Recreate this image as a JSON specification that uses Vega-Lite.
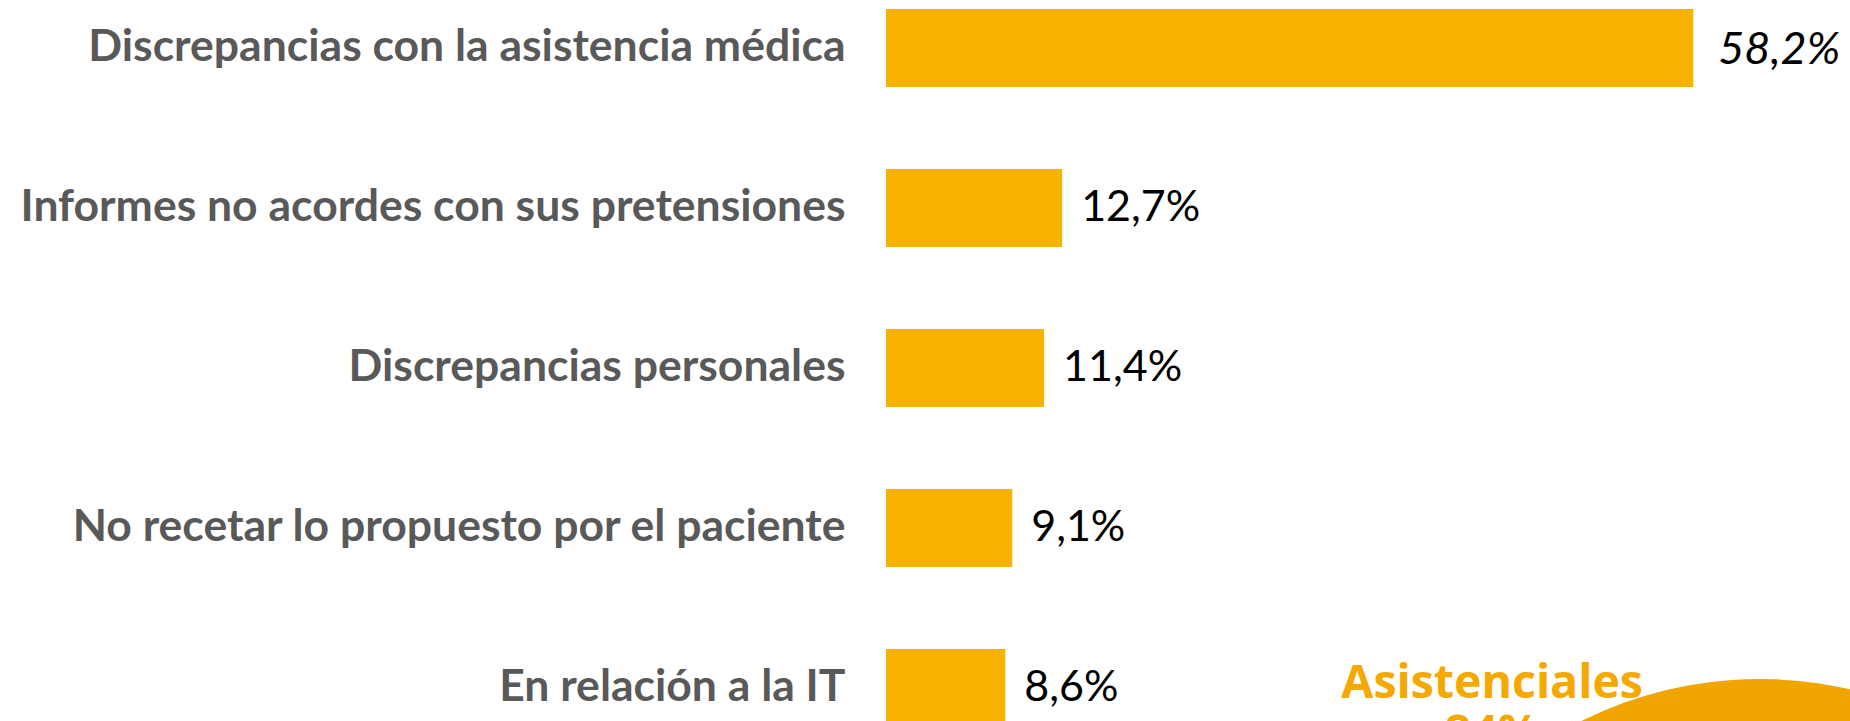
{
  "$schema": "https://vega.github.io/schema/vega-lite/v6.json",
  "autosize": {"type": "none"},
  "width": 964,
  "height": 736,
  "padding": {"left": 886, "top": 0, "right": 0, "bottom": 0},
  "background": "white",
  "config": {"view": {"stroke": null}},
  "layer": [
    {
      "data": {"values": [
        {"motivo": "Discrepancias con la asistencia médica", "pct": 58.2, "etiqueta": "58,2%"},
        {"motivo": "Informes no acordes con sus pretensiones", "pct": 12.7, "etiqueta": "12,7%"},
        {"motivo": "Discrepancias personales", "pct": 11.4, "etiqueta": "11,4%"},
        {"motivo": "No recetar lo propuesto por el paciente", "pct": 9.1, "etiqueta": "9,1%"},
        {"motivo": "En relación a la IT", "pct": 8.6, "etiqueta": "8,6%"}
      ]},
      "encoding": {
        "y": {"field": "motivo", "type": "nominal", "sort": null, "title": null,
          "scale": {"paddingInner": 0.5125, "paddingOuter": 0.05625},
          "axis": {"domain": false, "ticks": false, "labelPadding": 41, "labelFont": "Lato", "labelFontWeight": "bold", "labelFontSize": 44.5, "labelColor": "#595959", "labelLimit": 900}},
        "x": {"field": "pct", "type": "quantitative", "scale": {"domain": [0, 69.5], "nice": false}, "axis": null}
      },
      "layer": [
        {"mark": {"type": "bar", "color": "#F8B200"}},
        {
          "transform": [{"filter": "datum.motivo !== 'Discrepancias con la asistencia médica'"}],
          "mark": {"type": "text", "align": "left", "baseline": "middle", "dx": 19, "font": "Lato", "fontSize": 43, "color": "#000000"},
          "encoding": {"text": {"field": "etiqueta"}}
        },
        {
          "transform": [{"filter": "datum.motivo === 'Discrepancias con la asistencia médica'"}],
          "mark": {"type": "text", "align": "left", "baseline": "middle", "dx": 25, "dy": 2, "font": "Lato", "fontSize": 45, "fontStyle": "italic", "color": "#000000"},
          "encoding": {"text": {"field": "etiqueta"}}
        }
      ]
    },
    {
      "data": {"values": [
        {"grupo": "Asistenciales", "pct": 84, "texto": "Asistenciales\n84%"},
        {"grupo": "Otros", "pct": 16, "texto": ""}
      ]},
      "layer": [
        {
          "mark": {"type": "arc", "radius": 400},
          "encoding": {
            "x": {"datum": 63, "type": "quantitative"},
            "y": {"datum": -46.6, "type": "quantitative", "scale": {"domain": [0, 100], "nice": false, "zero": false}, "axis": null},
            "theta": {"field": "pct", "type": "quantitative", "stack": true, "scale": {"range": [-2.6, 3.6832]}},
            "color": {"field": "grupo", "type": "nominal", "legend": null, "scale": {"domain": ["Asistenciales", "Otros"], "range": ["#F0A500", "#FCD88A"]}}
          }
        },
        {
          "transform": [{"filter": "datum.grupo === 'Asistenciales'"}],
          "mark": {"type": "text", "align": "center", "baseline": "alphabetic", "lineBreak": "\n", "lineHeight": 50, "font": "Open Sans", "fontWeight": "bold", "fontSize": 46.5, "color": "#F5A800"},
          "encoding": {
            "x": {"datum": 43.7, "type": "quantitative"},
            "y": {"datum": 5.16, "type": "quantitative"},
            "text": {"field": "texto"}
          }
        }
      ]
    }
  ],
  "resolve": {"scale": {"y": "independent", "color": "independent"}, "axis": {"y": "independent"}}
}
